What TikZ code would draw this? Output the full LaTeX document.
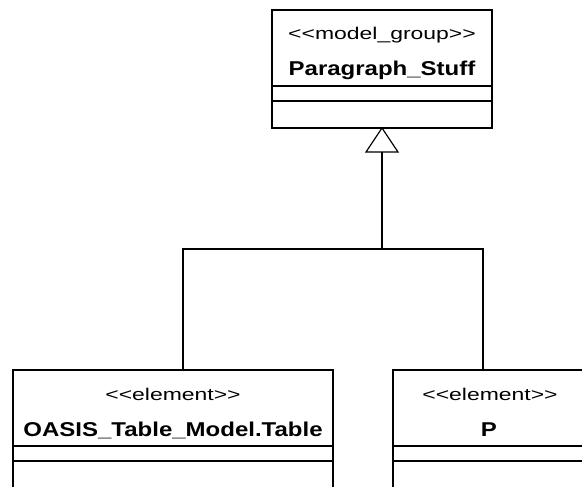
\documentclass[tikz,border=0pt]{standalone}
\usepackage{fontspec}
\setmainfont{Liberation Sans}
\newfontfamily\stereofont[FakeStretch=1.35]{Liberation Sans}
\newfontfamily\namefont[FakeStretch=1.2]{Liberation Sans}
\tikzset{
  classbox/.style={draw, line width=1.2pt, rectangle, inner sep=0pt, outer sep=0pt, anchor=north west},
  stereo/.style={inner sep=0pt, anchor=base, font=\stereofont\fontsize{17}{17}\selectfont},
  cname/.style={inner sep=0pt, anchor=base, font=\namefont\bfseries\fontsize{20}{20}\selectfont},
  sepline/.style={line width=1.2pt},
  link/.style={line width=1.2pt},
  inherit/.style={line width=1.2pt, fill=white, line join=miter}
}
\begin{document}
\begin{tikzpicture}[x=1pt, y=-1pt]
  \useasboundingbox (0,0) rectangle (582,487);
  \clip (0,0) rectangle (582,487);

  % superclass: model group
  \node[classbox, minimum width=220pt, minimum height=118pt] (pg) at (272,10) {};
  \draw[sepline] ([yshift=-76pt]pg.north west) -- ([yshift=-76pt]pg.north east);
  \draw[sepline] ([yshift=-91pt]pg.north west) -- ([yshift=-91pt]pg.north east);
  \node[stereo] (pgst) at (382,40) {<<model\_group>>};
  \node[cname] (pgnm) at (382,76) {Paragraph\_Stuff};

  % element: OASIS table
  \node[classbox, minimum width=320pt, minimum height=140pt] (tbl) at (13,370) {};
  \draw[sepline] ([yshift=-76pt]tbl.north west) -- ([yshift=-76pt]tbl.north east);
  \draw[sepline] ([yshift=-91pt]tbl.north west) -- ([yshift=-91pt]tbl.north east);
  \node[stereo] (tblst) at (173,400) {<<element>>};
  \node[cname] (tblnm) at (173,436) {OASIS\_Table\_Model.Table};

  % element: P
  \node[classbox, minimum width=194pt, minimum height=140pt] (pel) at (393,370) {};
  \draw[sepline] ([yshift=-76pt]pel.north west) -- ([yshift=-76pt]pel.north east);
  \draw[sepline] ([yshift=-91pt]pel.north west) -- ([yshift=-91pt]pel.north east);
  \node[stereo] (pelst) at (490,400) {<<element>>};
  \node[cname] (pelnm) at (489,436) {P};

  % generalization tree
  \coordinate (tb) at ([yshift=-24pt]pg.south);
  \coordinate (jn) at (382,249);
  \coordinate (tblin) at (183,370);
  \coordinate (pin) at (483,370);
  \draw[link] (tb) -- (tb |- jn);
  \draw[link] (tblin) -- (tblin |- jn) -- (pin |- jn) -- (pin);
  \draw[inherit] (pg.south) -- ([xshift=-16pt]tb) -- ([xshift=16pt]tb) -- cycle;
\end{tikzpicture}
\end{document}
